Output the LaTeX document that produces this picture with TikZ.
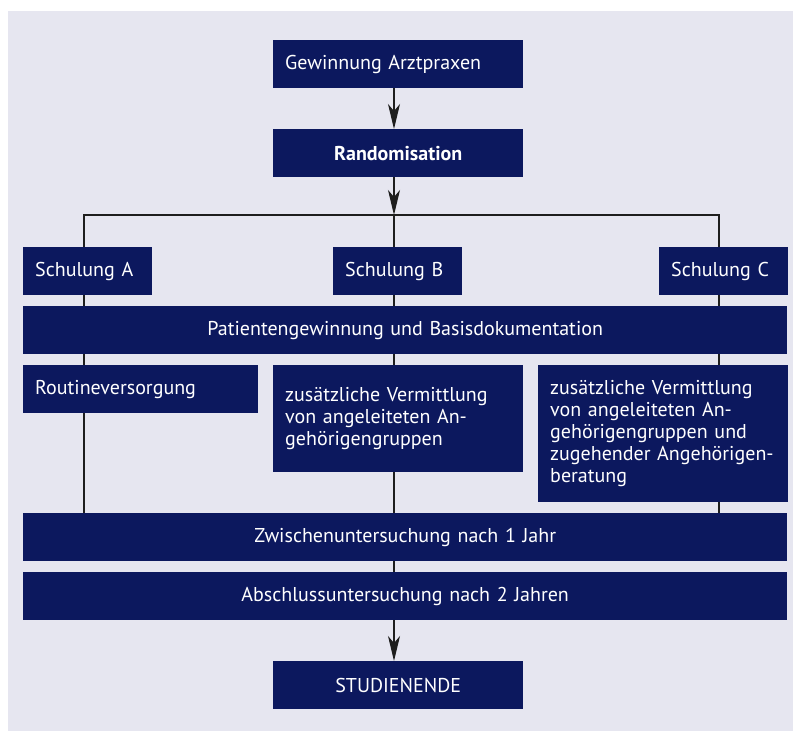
\documentclass[tikz,border=0pt]{standalone}
\usepackage{fontspec}
\setmainfont{PT Sans}
\usetikzlibrary{arrows.meta}

\definecolor{boxBlue}{RGB}{12,24,94}
\definecolor{paneGrey}{RGB}{230,230,240}
\definecolor{lineGrey}{RGB}{30,30,30}

\begin{document}
\begin{tikzpicture}
[x=1pt,y=-1pt,%
  lineDecorate/.style={-,line width=1.2pt,draw=lineGrey},%
  arrowDecorate/.style={lineDecorate,-{Stealth[length=25pt,width=12pt,inset=7pt]}},%
  nodeDecorate/.style={fill=boxBlue,text=white,anchor=north west,
    inner xsep=12pt,inner ysep=0pt,minimum height=48pt,
    font=\fontsize{20}{22}\selectfont},%
  leftBox/.style={nodeDecorate,align=left,text width=#1},%
  midBox/.style={nodeDecorate,align=center,text width=#1}]
%% frame
\useasboundingbox (0,0) rectangle (793,731);
\fill[paneGrey] (8,11) rectangle (793,731);
%% nodes or boxes
\node[leftBox=226pt] (gewinnung) at (273,40) {Gewinnung Arztpraxen};
\node[midBox=226pt,font=\fontsize{20}{22}\selectfont\bfseries] (random) at (273,129) {Randomisation};
\node[leftBox=105pt] (schulA) at (23,247) {Schulung A};
\node[leftBox=105pt] (schulB) at (333,247) {Schulung B};
\node[leftBox=105pt] (schulC) at (659,247) {Schulung C};
\node[midBox=740pt] (patienten) at (23,306) {Patientengewinnung und Basisdokumentation};
\node[leftBox=211pt] (routine) at (23,365) {Routineversorgung};
\node[leftBox=226pt,minimum height=107pt] (zusatzB) at (273,365)
  {zusätzliche Vermittlung\\von angeleiteten An-\\gehörigengruppen};
\node[leftBox=226pt,minimum height=137pt] (zusatzC) at (538,365)
  {zusätzliche Vermittlung\\von angeleiteten An-\\gehörigengruppen und\\zugehender Angehörigen-\\beratung};
\node[midBox=740pt] (zwischen) at (23,513) {Zwischenuntersuchung nach 1 Jahr};
\node[midBox=740pt] (abschluss) at (23,572) {Abschlussuntersuchung nach 2 Jahren};
\node[midBox=226pt] (ende) at (273,661) {STUDIENENDE};
%% branch points
\coordinate (split) at (394,215);
\coordinate (leftc) at (84,215);
\coordinate (rightc) at (719,215);
%% edges or lines
\draw[arrowDecorate] (gewinnung.south -| split) -- (random.north -| split);
\draw[arrowDecorate] (random.south -| split) -- (split);
\draw[lineDecorate] (schulA.north -| leftc) -- (leftc) -- (rightc) -- (schulC.north -| rightc);
\draw[lineDecorate] (split) -- (schulB.north -| split);
\path
\foreach \col/\startnode/\endnode in {
  leftc/schulA/patienten, leftc/patienten/routine, leftc/routine/zwischen,
  split/schulB/patienten, split/patienten/zusatzB, split/zusatzB/zwischen,
  split/zwischen/abschluss,
  rightc/schulC/patienten, rightc/patienten/zusatzC, rightc/zusatzC/zwischen}
{
  (\startnode.south -| \col) edge[lineDecorate] (\endnode.north -| \col)
};
\draw[arrowDecorate] (abschluss.south -| split) -- (ende.north -| split);
\end{tikzpicture}
\end{document}
